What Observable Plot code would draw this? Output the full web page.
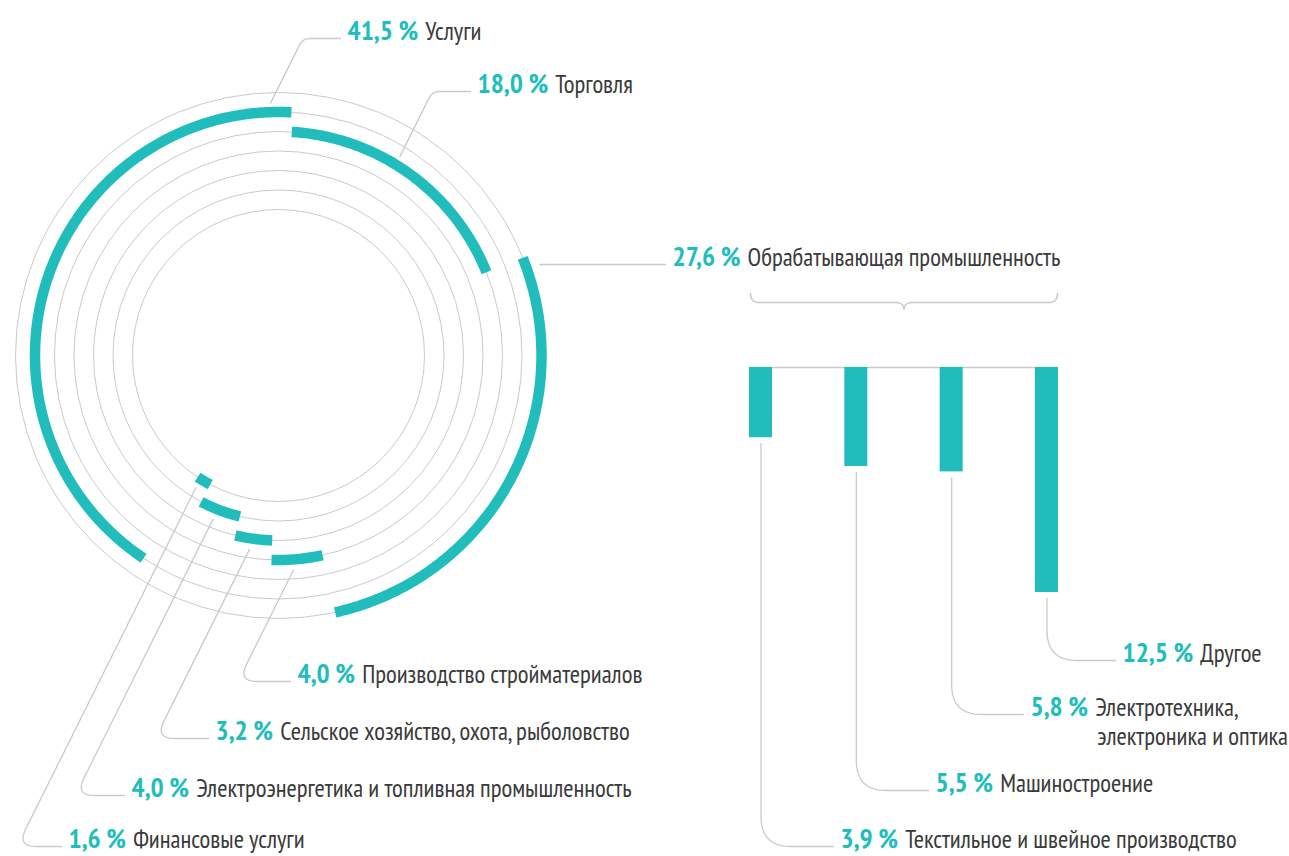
<!DOCTYPE html>
<html><head><meta charset="utf-8">
<script src="https://cdn.jsdelivr.net/npm/d3@7"></script>
<script src="https://cdn.jsdelivr.net/npm/@observablehq/plot@0.6"></script>
<style>
html,body{margin:0;padding:0;background:#fff;}
#chart{position:relative;width:1289px;height:856px;overflow:hidden;}
#chart svg{position:absolute;left:0;top:0;background:transparent;}
</style></head><body><div id="chart"></div>
<script>
// ---------------- DATA ----------------
// Sectors, in the clockwise order of their arcs (starting near 12 o'clock)
const sectors = [
  "Торговля",
  "Обрабатывающая промышленность",
  "Производство стройматериалов",
  "Сельское хозяйство, охота, рыболовство",
  "Электроэнергетика и топливная промышленность",
  "Финансовые услуги",
  "Услуги"
];
const sectorShares = [18.0, 27.6, 4.0, 3.2, 4.0, 1.6, 41.5];

// Breakdown of manufacturing
const manufacturing = [
  "Текстильное и швейное производство",
  "Машиностроение",
  "Электротехника,\nэлектроника и оптика",
  "Другое"
];
const manufacturingShares = [3.9, 5.5, 5.8, 12.5];

// ---------------- STYLE ----------------
const W = 1289, H = 856;
const TEAL = "#21bdbc", GRAY = "#cacaca", INK = "#3a3a3a";
const FONT = '"PT Sans Narrow","Liberation Sans Narrow","Arial Narrow","DejaVu Sans Condensed","Roboto Condensed",Roboto,sans-serif';
const NUM_SIZE = 27.5, NAME_SIZE = 24.8;
const fmt = v => v.toFixed(1).replace(".", ",") + " %";

// ---------------- LAYOUT (pixels) ----------------
const center = {px: 278, py: 355};
const ringRadius = k => 146 + 19.5 * k;          // ring k, inner -> outer
const ringOfSector = [4, 6, 3, 2, 1, 0, 5];      // which ring each sector arc sits on
const startAngle = 3.4;                          // degrees clockwise from 12 o'clock
const ringLabelLayout = [
  {x: 477, y: 91,  angle: 31.4,  gap: 9},
  {x: 672, y: 264, angle: 70.7,  gap: 14, straight: true},
  {x: 297, y: 681, angle: 176.0, gap: 10.5},
  {x: 215, y: 738, angle: 188.5, gap: 11},
  {x: 131, y: 795, angle: 201.8, gap: 11},
  {x: 68,  y: 846, angle: 212.0, gap: 10},
  {x: 347, y: 38,  angle: 358.2, gap: 9}
];
const barLabelLayout = [
  {x: 840, y: 846}, {x: 935, y: 790}, {x: 1030, y: 714}, {x: 1122, y: 660}
];
const LEAD_SLANT = Math.tan(26.5 * Math.PI / 180);

// ---------------- helpers ----------------
const rad = a => a * Math.PI / 180;
function fillet(P0, C, P2, rho) {
  const ux = C[0]-P0[0], uy = C[1]-P0[1], ul = Math.hypot(ux, uy);
  const vx = P2[0]-C[0], vy = P2[1]-C[1], vl = Math.hypot(vx, vy);
  const u = [ux/ul, uy/ul], v = [vx/vl, vy/vl];
  const turn = Math.acos(Math.max(-1, Math.min(1, u[0]*v[0] + u[1]*v[1])));
  const t = Math.min(rho * Math.tan(turn/2), ul * 0.9, vl * 0.9);
  const A = [C[0]-u[0]*t, C[1]-u[1]*t], B = [C[0]+v[0]*t, C[1]+v[1]*t];
  const pts = [P0, A];
  for (let k = 1; k < 16; k++) {
    const s = k/16, a = (1-s)*(1-s), b = 2*s*(1-s), c = s*s;
    pts.push([a*A[0]+b*C[0]+c*B[0], a*A[1]+b*C[1]+c*B[1]]);
  }
  pts.push(B, P2);
  return pts;
}
function quad(P, C, Q, n = 10) {
  const out = [];
  for (let k = 0; k <= n; k++) {
    const s = k/n, a = (1-s)*(1-s), b = 2*s*(1-s), c = s*s;
    out.push([a*P[0]+b*C[0]+c*Q[0], a*P[1]+b*C[1]+c*Q[1]]);
  }
  return out;
}

// ================= PLOT A : rings =================
const xA = {domain: [-center.px, W - center.px], range: [0, W]};
const yA = {domain: [center.py, center.py - H], range: [0, H]};
const sxA = Plot.scale({x: xA}), syA = Plot.scale({y: yA});
const toA = ([px, py]) => ({x: sxA.invert(px), y: syA.invert(py)});

const rings = d3.range(sectors.length).map(k => ({k, r: ringRadius(k)}));

let cum = 0;
const arcs = sectors.map((s, i) => {
  const a0 = startAngle + cum * 3.6;
  cum += sectorShares[i];
  const a1 = startAngle + cum * 3.6;
  return {sector: s, a0, a1, r: ringRadius(ringOfSector[i])};
});
const arcPoints = arcs.flatMap(a => {
  const n = Math.max(2, Math.ceil((a.a1 - a.a0) / 0.5));
  return d3.range(n + 1).map(k => {
    const t = rad(a.a0 + (a.a1 - a.a0) * k / n);
    return {sector: a.sector, x: a.r * Math.sin(t), y: a.r * Math.cos(t)};
  });
});

const ringLeaders = arcs.flatMap((a, i) => {
  const L = ringLabelLayout[i];
  const R = a.r + L.gap, t = rad(L.angle);
  const P0 = [center.px + R * Math.sin(t), center.py - R * Math.cos(t)];
  const end = [L.x - 7, L.y];
  let pts;
  if (L.straight) pts = [[P0[0], L.y], end];
  else {
    const dy = L.y - P0[1];
    const C = [P0[0] - LEAD_SLANT * dy, L.y];
    pts = fillet(P0, C, end, 12);
  }
  return pts.map(p => ({sector: a.sector, ...toA(p)}));
});

const ringLabels = sectors.map((s, i) => ({
  num: fmt(sectorShares[i]), name: s,
  ...toA([ringLabelLayout[i].x, ringLabelLayout[i].y + 1.5])
}));

const plotA = Plot.plot({
  width: W, height: H, margin: 0,
  x: {...xA, axis: null}, y: {...yA, axis: null},
  r: {type: "identity"},
  style: {fontFamily: FONT, background: "transparent"},
  marks: [
    Plot.dot(rings, {x: 0, y: 0, r: "r", stroke: GRAY, strokeWidth: 1, fill: "none"}),
    Plot.line(arcPoints, {x: "x", y: "y", z: "sector", stroke: TEAL, strokeWidth: 10.5, strokeLinecap: "butt", strokeLinejoin: "round"}),
    Plot.line(ringLeaders, {x: "x", y: "y", z: "sector", stroke: GRAY, strokeWidth: 1.3}),
    Plot.text(ringLabels, {x: "x", y: "y", text: "num", textAnchor: "start", lineAnchor: "bottom", fontSize: NAME_SIZE})
  ]
});

// ================= PLOT B : manufacturing bars =================
const xB = {domain: [0, 3], range: [760.5, 1046.5]};
const yB = {domain: [0, 12.5], range: [367, 592]};
const sxB = Plot.scale({x: xB}), syB = Plot.scale({y: yB});
const toB = ([px, py]) => ({x: sxB.invert(px), y: syB.invert(py)});
const BAR_W = 23;
const step = sxB.apply(1) - sxB.apply(0);
const inset = (step - BAR_W) / 2;

const bars = manufacturing.map((m, i) => ({i, name: m, v: manufacturingShares[i]}));
const leftEdge = sxB.apply(0) - BAR_W / 2, rightEdge = sxB.apply(3) + BAR_W / 2;

const barLeaders = bars.flatMap(b => {
  const L = barLabelLayout[b.i];
  const P0 = [sxB.apply(b.i), syB.apply(b.v) + 6];
  const C = [P0[0], L.y];
  const pts = fillet(P0, C, [L.x - 7, L.y], 30);
  return pts.map(p => ({i: b.i, ...toB(p)}));
});

const bTop = 293, bMid = 302, bTip = 309, bCx = (leftEdge + rightEdge) / 2;
const bracePx = [
  ...quad([leftEdge + 1, bTop], [leftEdge + 1, bMid], [leftEdge + 10, bMid]),
  ...quad([bCx - 9, bMid], [bCx, bMid], [bCx, bTip]),
  ...quad([bCx, bTip], [bCx, bMid], [bCx + 9, bMid]),
  ...quad([rightEdge - 10, bMid], [rightEdge - 1, bMid], [rightEdge - 1, bTop])
];
const brace = bracePx.map(toB);

const barLabels = bars.map(b => ({
  num: fmt(b.v), name: b.name,
  ...toB([barLabelLayout[b.i].x, barLabelLayout[b.i].y + 1.5])
}));

const plotB = Plot.plot({
  width: W, height: H, margin: 0,
  x: {...xB, axis: null}, y: {...yB, axis: null},
  style: {fontFamily: FONT, background: "transparent"},
  marks: [
    Plot.ruleY([0], {x1: sxB.invert(leftEdge), x2: sxB.invert(rightEdge), stroke: GRAY, strokeWidth: 1.5}),
    Plot.rect(bars, {x1: d => d.i - 0.5, x2: d => d.i + 0.5, y1: 0, y2: "v", fill: TEAL, insetLeft: inset, insetRight: inset}),
    Plot.line(barLeaders, {x: "x", y: "y", z: "i", stroke: GRAY, strokeWidth: 1.3}),
    Plot.line(brace, {x: "x", y: "y", stroke: GRAY, strokeWidth: 1.5}),
    Plot.text(barLabels, {x: "x", y: "y", text: "num", textAnchor: "start", lineAnchor: "bottom", fontSize: NAME_SIZE})
  ]
});

const chart = document.getElementById("chart");
chart.append(plotA, plotB);

// ---- rich labels: bold teal number + grey name ----
function enrich(svg, rows) {
  const texts = svg.querySelectorAll("text");
  const ns = "http://www.w3.org/2000/svg";
  texts.forEach((t, i) => {
    const row = rows[i];
    if (!row) return;
    t.textContent = "";
    const n = document.createElementNS(ns, "tspan");
    n.textContent = row.num;
    n.setAttribute("fill", TEAL);
    n.setAttribute("font-weight", "700");
    n.setAttribute("font-size", NUM_SIZE);
    t.appendChild(n);
    const lines = row.name.split("\n");
    const nm = document.createElementNS(ns, "tspan");
    nm.textContent = lines[0];
    nm.setAttribute("fill", INK);
    nm.setAttribute("font-size", NAME_SIZE);
    nm.setAttribute("dx", 7);
    t.appendChild(nm);
    if (lines.length > 1) {
      const x0 = nm.getStartPositionOfChar(0).x;
      for (let k = 1; k < lines.length; k++) {
        const l2 = document.createElementNS(ns, "tspan");
        l2.textContent = lines[k];
        l2.setAttribute("fill", INK);
        l2.setAttribute("font-size", NAME_SIZE);
        l2.setAttribute("x", x0 + 2);
        l2.setAttribute("dy", 29);
        t.appendChild(l2);
      }
    }
  });
}
enrich(plotA, ringLabels);
enrich(plotB, barLabels);
</script>
</body></html>
